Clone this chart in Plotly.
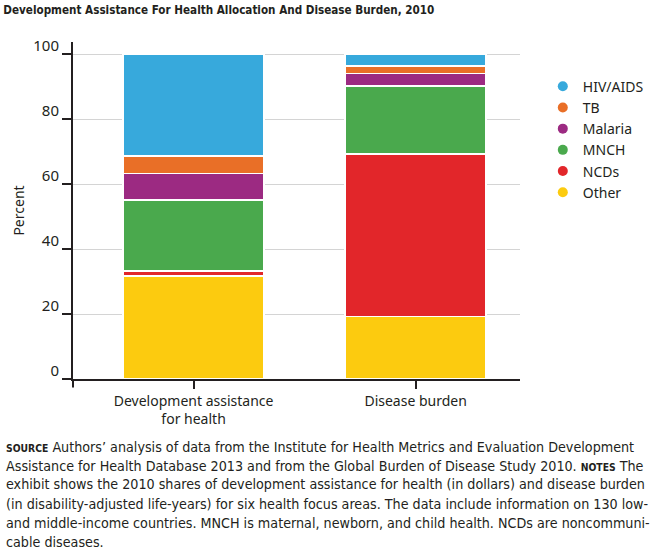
import plotly.graph_objects as go

# Shares (percent) read from the exhibit
columns = ["Development assistance<br>for health", "Disease burden"]
causes = ["Other", "NCDs", "MNCH", "Malaria", "TB", "HIV/AIDS"]
other = [31.7, 19.2]
ncds = [1.5, 50.0]
mnch = [21.9, 21.0]
malaria = [8.2, 3.8]
tb = [5.3, 2.3]
hiv_aids = [31.4, 3.7]

colors = {
    "HIV/AIDS": "#37a9dc",
    "TB": "#e96f27",
    "Malaria": "#9c2a82",
    "MNCH": "#4aa94d",
    "NCDs": "#e2262a",
    "Other": "#fccb0f",
}
values = {"Other": other, "NCDs": ncds, "MNCH": mnch,
          "Malaria": malaria, "TB": tb, "HIV/AIDS": hiv_aids}

narrow = "DejaVu Sans Condensed, Liberation Sans Narrow, sans-serif"
body = "Noto Sans, Open Sans, sans-serif"
ink = "#231f20"

fig = go.Figure()

# stacked bars, bottom to top
for c in causes:
    fig.add_trace(go.Bar(
        x=columns, y=values[c], name=c,
        marker=dict(color=colors[c], line=dict(color="white", width=1.5)),
        width=0.635, showlegend=False,
    ))

# legend with round markers (top to bottom)
for c in reversed(causes):
    fig.add_trace(go.Scatter(
        x=[None], y=[None], mode="markers", name=c,
        marker=dict(symbol="circle", size=10, color=colors[c]),
    ))

fig.update_layout(
    width=660, height=549,
    barmode="stack",
    paper_bgcolor="white", plot_bgcolor="white",
    margin=dict(l=73, r=140, t=42, b=170, autoexpand=False),
    font=dict(family=body, size=14, color=ink),
    title=dict(
        text="<b>Development Assistance For Health Allocation And Disease Burden, 2010</b>",
        font=dict(family=narrow, size=11.6, color=ink),
        x=0.005, xanchor="left", y=0.982, yanchor="middle",
    ),
    legend=dict(
        x=1.051, xanchor="left", y=0.915, yanchor="top",
        traceorder="normal", font=dict(size=14, color=ink),
        itemwidth=30, tracegroupgap=0, bgcolor="rgba(0,0,0,0)",
    ),
)

fig.update_xaxes(
    range=[-0.543, 1.47],
    showline=True, linecolor=ink, linewidth=2,
    ticks="outside", ticklen=8, tickwidth=2, tickcolor=ink,
    showgrid=False,
    tickfont=dict(size=14, color=ink),
)
fig.update_yaxes(
    range=[0, 103.7],
    tickvals=[0, 20, 40, 60, 80, 100],
    showline=True, linecolor=ink, linewidth=2,
    ticks="outside", ticklen=9, tickwidth=2, tickcolor=ink,
    showgrid=True, gridcolor="#d4d4d4", gridwidth=1,
    zeroline=False,
    ticklabelshift=-8,
    tickfont=dict(size=15, color=ink),
    title=dict(text="Percent", font=dict(size=14, color=ink), standoff=5),
)

# short stub of the y axis below the baseline
fig.add_shape(type="line", xref="paper", yref="paper",
              x0=0, x1=0, y0=0, y1=-0.025,
              line=dict(color=ink, width=2))

small = "<span style='font-size:10.3px'><b>{}</b></span>"
footer = [
    small.format("SOURCE") + " Authors’ analysis of data from the Institute for Health Metrics and Evaluation Development",
    "Assistance for Health Database 2013 and from the Global Burden of Disease Study 2010. " + small.format("NOTES") + " The",
    "exhibit shows the 2010 shares of development assistance for health (in dollars) and disease burden",
    "(in disability-adjusted life-years) for six health focus areas. The data include information on 130 low-",
    "and middle-income countries. MNCH is maternal, newborn, and child health. NCDs are noncommuni-",
    "cable diseases.",
]
for i, line in enumerate(footer):
    fig.add_annotation(
        text=line, xref="paper", yref="paper",
        x=-69 / 447, xanchor="left",
        y=(379 - 446.5 - i * 19) / 337, yanchor="middle",
        showarrow=False, align="left",
        font=dict(family=narrow, size=14.2, color=ink),
    )

# the page's default body margin would push the figure 8px off
fig.write_html("out.html", config={"displayModeBar": False},
               post_script="document.body.style.margin='0';")
